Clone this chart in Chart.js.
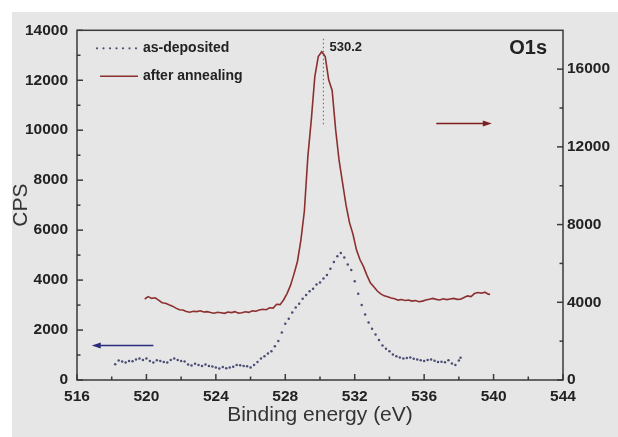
<!DOCTYPE html>
<html>
<head>
<meta charset="utf-8">
<script src="https://cdn.jsdelivr.net/npm/chart.js@4.4.0/dist/chart.umd.min.js"></script>
<style>
  html, body { margin: 0; padding: 0; background: #ffffff; }
  #wrap { position: absolute; left: 12px; top: 12px; width: 606px; height: 425px; background: #e6e6e6; }
  canvas { display: block; }
</style>
</head>
<body>
<div id="wrap"><canvas id="xps" width="606" height="425"></canvas></div>
<script>
// as-deposited (left axis, CPS)
const asDepEnergy = [518.2, 518.4, 518.6, 518.8, 519.0, 519.2, 519.4, 519.6, 519.8, 520.0,
  520.2, 520.4, 520.6, 520.8, 521.0, 521.2, 521.4, 521.6, 521.8, 522.0,
  522.2, 522.4, 522.6, 522.8, 523.0, 523.2, 523.4, 523.6, 523.8, 524.0,
  524.2, 524.4, 524.6, 524.8, 525.0, 525.2, 525.4, 525.6, 525.8, 526.0,
  526.2, 526.4, 526.6, 526.8, 527.0, 527.2, 527.4, 527.6, 527.8, 528.0,
  528.2, 528.4, 528.6, 528.8, 529.0, 529.2, 529.4, 529.6, 529.8, 530.0,
  530.2, 530.4, 530.6, 530.8, 531.0, 531.2, 531.4, 531.6, 531.8, 532.0,
  532.2, 532.4, 532.6, 532.8, 533.0, 533.2, 533.4, 533.6, 533.8, 534.0,
  534.2, 534.4, 534.6, 534.8, 535.0, 535.2, 535.4, 535.6, 535.8, 536.0,
  536.2, 536.4, 536.6, 536.8, 537.0, 537.2, 537.4, 537.6, 537.8, 538.0, 538.1];
const asDepCounts = [630, 780, 740, 700, 760, 750, 820, 860, 800, 860,
  760, 700, 790, 760, 720, 700, 800, 860, 800, 760,
  740, 620, 580, 650, 600, 560, 620, 560, 540, 500,
  460, 520, 470, 500, 530, 600, 590, 560, 550, 500,
  600, 720, 860, 950, 1060, 1150, 1350, 1560, 1900, 2250,
  2450, 2700, 2900, 3050, 3250, 3400, 3550, 3650, 3820, 3900,
  4060, 4200, 4450, 4720, 4950, 5080, 4900, 4620, 4400, 3950,
  3450, 3000, 2620, 2300, 2050, 1820, 1600, 1380, 1250, 1150,
  1020, 950, 900, 860, 880, 900, 850, 820, 790, 760,
  800, 820, 770, 720, 730, 710, 790, 660, 600, 780, 890];

// after annealing (right axis)
const annealEnergy = [519.9, 520.1, 520.3, 520.5, 520.7, 520.9, 521.1, 521.3, 521.5, 521.7,
  521.9, 522.1, 522.3, 522.5, 522.7, 522.9, 523.1, 523.3, 523.5, 523.7,
  523.9, 524.1, 524.3, 524.5, 524.7, 524.9, 525.1, 525.3, 525.5, 525.7,
  525.9, 526.1, 526.3, 526.5, 526.7, 526.9, 527.1, 527.3, 527.5, 527.7,
  527.9, 528.1, 528.3, 528.5, 528.7, 528.9, 529.1, 529.3, 529.5, 529.7,
  529.9, 530.1, 530.3, 530.5, 530.7, 530.9, 531.1, 531.3, 531.5, 531.7,
  531.9, 532.1, 532.3, 532.5, 532.7, 532.9, 533.1, 533.3, 533.5, 533.7,
  533.9, 534.1, 534.3, 534.5, 534.7, 534.9, 535.1, 535.3, 535.5, 535.7,
  535.9, 536.1, 536.3, 536.5, 536.7, 536.9, 537.1, 537.3, 537.5, 537.7,
  537.9, 538.1, 538.3, 538.5, 538.7, 538.9, 539.1, 539.3, 539.5, 539.7, 539.8];
const annealCounts = [4170, 4290, 4200, 4230, 4110, 3980, 3950, 3870, 3800, 3700,
  3620, 3600, 3530, 3490, 3540, 3520, 3560, 3500, 3520, 3470,
  3440, 3490, 3460, 3430, 3500, 3470, 3520, 3440, 3460, 3510,
  3480, 3560, 3540, 3600, 3640, 3620, 3720, 3700, 3900, 3880,
  4120, 4450, 4870, 5450, 6100, 7200, 8700, 11500, 13400, 15600,
  16650, 16900, 16650, 15450, 14900, 12900, 11300, 10150, 9000, 8100,
  7500, 6700, 6200, 5850, 5400, 5000, 4800, 4580, 4430, 4330,
  4280, 4220, 4180, 4110, 4140, 4090, 4120, 4060, 4090, 4030,
  4060, 4120, 4160, 4200, 4150, 4120, 4180, 4140, 4170, 4200,
  4150, 4160, 4250, 4330, 4290, 4450, 4500, 4470, 4520, 4420, 4400];

// peak marker at 530.2 (right axis units)
const peakEnergy = [530.2, 530.2];
const peakCounts = [17560, 13150];

const xTicks = [516, 520, 524, 528, 532, 536, 540, 544];
const xMinor = [518, 522, 526, 530, 534, 538, 542];
const yTicks = [0, 2000, 4000, 6000, 8000, 10000, 12000, 14000];
const yMinor = [1000, 3000, 5000, 7000, 9000, 11000, 13000];
const y2Ticks = [0, 4000, 8000, 12000, 16000];
const y2Minor = [2000, 6000, 10000, 14000];

const FONT = '"Liberation Sans", Arial, sans-serif';
const RED = '#8c2f2f';
const DOTS = '#4a4e74';

function toPoints(xs, ys) {
    return xs.map((x, i) => ({ x: x, y: ys[i] }));
}

// frame, inward ticks, arrows, legend and labels
const decorations = {
    id: 'decorations',
    afterDatasetsDraw(chart) {
        const ctx = chart.ctx;
        const a = chart.chartArea;
        const sx = chart.scales.x, sy = chart.scales.y, sy2 = chart.scales.y2;

        ctx.save();
        ctx.strokeStyle = '#3a3a3a';
        ctx.lineWidth = 1.5;
        ctx.strokeRect(a.left, a.top, a.right - a.left, a.bottom - a.top);

        function seg(x1, y1, x2, y2) {
            ctx.beginPath();
            ctx.moveTo(x1, y1);
            ctx.lineTo(x2, y2);
            ctx.stroke();
        }
        xTicks.forEach(v => { const p = sx.getPixelForValue(v); seg(p, a.bottom, p, a.bottom - 6); });
        xMinor.forEach(v => { const p = sx.getPixelForValue(v); seg(p, a.bottom, p, a.bottom - 3.5); });
        yTicks.forEach(v => { const p = sy.getPixelForValue(v); seg(a.left, p, a.left + 6, p); });
        yMinor.forEach(v => { const p = sy.getPixelForValue(v); seg(a.left, p, a.left + 3.5, p); });
        y2Ticks.forEach(v => { const p = sy2.getPixelForValue(v); seg(a.right, p, a.right - 6, p); });
        y2Minor.forEach(v => { const p = sy2.getPixelForValue(v); seg(a.right, p, a.right - 3.5, p); });

        // arrows showing which axis each curve belongs to
        function arrow(x1, x2, y, color) {
            ctx.strokeStyle = color;
            ctx.fillStyle = color;
            ctx.lineWidth = 1.6;
            const dir = x2 > x1 ? 1 : -1;
            seg(x1, y, x2 - dir * 6, y);
            ctx.beginPath();
            ctx.moveTo(x2, y);
            ctx.lineTo(x2 - dir * 9, y - 3);
            ctx.lineTo(x2 - dir * 9, y + 3);
            ctx.closePath();
            ctx.fill();
        }
        arrow(sx.getPixelForValue(520.4), sx.getPixelForValue(516.85), sy.getPixelForValue(1380), '#2c2c7c');
        arrow(sx.getPixelForValue(536.7), sx.getPixelForValue(539.9), sy2.getPixelForValue(13200), '#7e1e1e');

        // legend
        const lx = a.left + 20, lEnd = a.left + 63, tx = a.left + 66;
        const r1 = a.top + 18, r2 = a.top + 46;
        ctx.fillStyle = DOTS;
        for (let x = lx; x <= lEnd; x += 6.5) {
            ctx.beginPath();
            ctx.arc(x, r1, 1.1, 0, Math.PI * 2);
            ctx.fill();
        }
        ctx.strokeStyle = RED;
        ctx.lineWidth = 1.6;
        seg(lx + 3, r2, lEnd - 2, r2);

        ctx.fillStyle = '#222';
        ctx.textBaseline = 'middle';
        ctx.textAlign = 'left';
        ctx.font = 'bold 14px ' + FONT;
        ctx.fillText(chart.data.datasets[0].label, tx, r1);
        ctx.fillText(chart.data.datasets[1].label, tx, r2);

        ctx.font = 'bold 13px ' + FONT;
        ctx.fillText('530.2', sx.getPixelForValue(530.2) + 6, sy2.getPixelForValue(17110));

        ctx.textAlign = 'right';
        ctx.font = 'bold 20px ' + FONT;
        ctx.fillText('O1s', a.right - 16, a.top + 18);
        ctx.restore();
    }
};

const tickFont = { family: FONT, size: 15.5, weight: 'bold' };
const plain = v => String(v);

new Chart(document.getElementById('xps'), {
    type: 'scatter',
    data: {
        datasets: [{
            label: 'as-deposited',
            data: toPoints(asDepEnergy, asDepCounts),
            yAxisID: 'y',
            showLine: false,
            pointRadius: 1.25,
            pointBorderWidth: 0,
            pointBackgroundColor: DOTS,
        }, {
            label: 'after annealing',
            data: toPoints(annealEnergy, annealCounts),
            yAxisID: 'y2',
            showLine: true,
            borderColor: RED,
            borderWidth: 1.6,
            pointRadius: 0,
            tension: 0,
        }, {
            label: 'peak',
            data: toPoints(peakEnergy, peakCounts),
            yAxisID: 'y2',
            showLine: true,
            borderColor: '#777',
            borderWidth: 1.2,
            borderDash: [1.5, 2.5],
            pointRadius: 0,
        }]
    },
    options: {
        responsive: false,
        animation: false,
        layout: { padding: { top: 12, left: 0, right: 0, bottom: 0 } },
        plugins: {
            legend: { display: false },
            tooltip: { enabled: false },
        },
        scales: {
            x: {
                type: 'linear',
                min: 516,
                max: 544,
                afterBuildTicks: s => { s.ticks = xTicks.map(v => ({ value: v })); },
                afterFit: s => { s.height = 57; },
                grid: { display: false, drawTicks: false },
                border: { display: false },
                ticks: { font: tickFont, color: '#222', padding: 7, maxRotation: 0, callback: plain },
                title: {
                    display: true,
                    text: 'Binding energy (eV)',
                    color: '#333',
                    font: { family: FONT, size: 21 },
                    padding: { top: 0, bottom: 9 },
                },
            },
            y: {
                position: 'left',
                min: 0,
                max: 14000,
                afterBuildTicks: s => { s.ticks = yTicks.map(v => ({ value: v })); },
                afterFit: s => { s.width = 65; },
                grid: { display: false, drawTicks: false },
                border: { display: false },
                ticks: { font: tickFont, color: '#222', padding: 9, callback: plain },
                title: {
                    display: true,
                    text: 'CPS',
                    color: '#333',
                    font: { family: FONT, size: 21, lineHeight: 0.9 },
                    padding: 0,
                },
            },
            y2: {
                position: 'right',
                min: 0,
                max: 18000,
                afterBuildTicks: s => { s.ticks = y2Ticks.map(v => ({ value: v })); },
                afterFit: s => { s.width = 55; },
                grid: { display: false, drawTicks: false },
                border: { display: false },
                ticks: { font: tickFont, color: '#222', padding: 4, callback: plain },
            },
        },
    },
    plugins: [decorations],
});
</script>
</body>
</html>
